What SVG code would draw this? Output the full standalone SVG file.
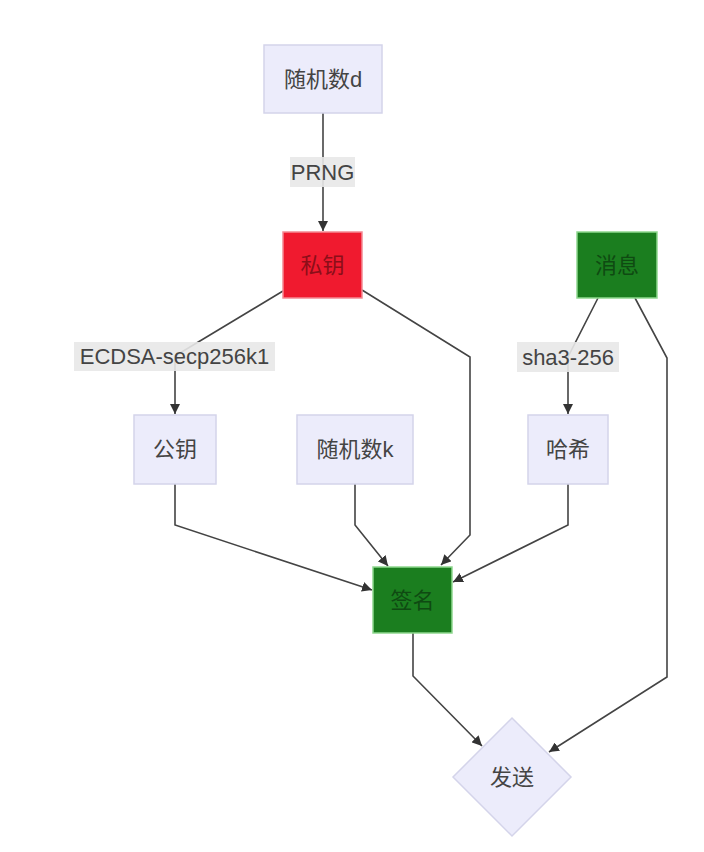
<svg xmlns="http://www.w3.org/2000/svg" width="704" height="852" viewBox="0 0 704 852">
<style>
.box{fill:#ececfb;stroke:#d4d4ea;stroke-width:1.5}
.red{fill:#f01a2f;stroke:#f48a94;stroke-width:1.5}
.green{fill:#1b7e1f;stroke:#8fd88f;stroke-width:1.5}
text{font-family:"Liberation Sans","Noto Sans CJK SC",sans-serif;font-size:22px;text-anchor:middle;dominant-baseline:central;fill:#444}
.tred{fill:#8c0e19}
.tgreen{fill:#0f4a12}
.edge{fill:none;stroke:#444;stroke-width:1.6}
.lbl{fill:#e8e8e8;opacity:0.9}
</style>
<defs>
<marker id="arr" viewBox="0 0 10 10" refX="10" refY="5" markerWidth="10" markerHeight="10" markerUnits="userSpaceOnUse" orient="auto">
<path d="M0,0 L10,5 L0,10 z" fill="#333"/>
</marker>
</defs>
<rect width="704" height="852" fill="#ffffff"/>
<g id="connectors">
<path class="edge" d="M323,113 L323,231" marker-end="url(#arr)"/>
<path class="edge" d="M283,291 L175,356 L175,414" marker-end="url(#arr)"/>
<path class="edge" d="M362,290 L470,357 L470,535 L441,565" marker-end="url(#arr)"/>
<path class="edge" d="M598,298 L568,357 L568,414" marker-end="url(#arr)"/>
<path class="edge" d="M635,298 L667,358 L667,677 L549,752" marker-end="url(#arr)"/>
<path class="edge" d="M175,484 L175,525 L372,590" marker-end="url(#arr)"/>
<path class="edge" d="M355,484 L355,525 L388,566" marker-end="url(#arr)"/>
<path class="edge" d="M568,484 L568,525 L453,582" marker-end="url(#arr)"/>
<path class="edge" d="M413,633 L413,676 L482,746" marker-end="url(#arr)"/>
<g id="edge-labels">
<rect class="lbl" x="290" y="157" width="65" height="30"/>
<text x="322.5" y="172">PRNG</text>
<rect class="lbl" x="74" y="342" width="201" height="29"/>
<text x="174.5" y="356.5">ECDSA-secp256k1</text>
<rect class="lbl" x="517" y="342" width="102" height="30"/>
<text x="568" y="357">sha3-256</text>
</g>
</g>
<g id="n-randd"><rect class="box" x="264" y="45" width="118" height="68"/><text x="323" y="79">随机数d</text></g>
<g id="n-priv"><rect class="red" x="283" y="232" width="79" height="66"/><text class="tred" x="322.5" y="265">私钥</text></g>
<g id="n-msg"><rect class="green" x="577" y="232" width="80" height="66"/><text class="tgreen" x="617" y="265">消息</text></g>
<g id="n-pub"><rect class="box" x="134" y="415" width="82" height="69"/><text x="175" y="449.5">公钥</text></g>
<g id="n-randk"><rect class="box" x="297" y="415" width="116" height="69"/><text x="355" y="449.5">随机数k</text></g>
<g id="n-hash"><rect class="box" x="528" y="415" width="80" height="69"/><text x="568" y="449.5">哈希</text></g>
<g id="n-sig"><rect class="green" x="373" y="567" width="79" height="66"/><text class="tgreen" x="412.5" y="600">签名</text></g>
<g id="n-send"><polygon class="box" points="512,718 571,777 512,836 453,777"/><text x="512" y="777">发送</text></g>
</svg>
